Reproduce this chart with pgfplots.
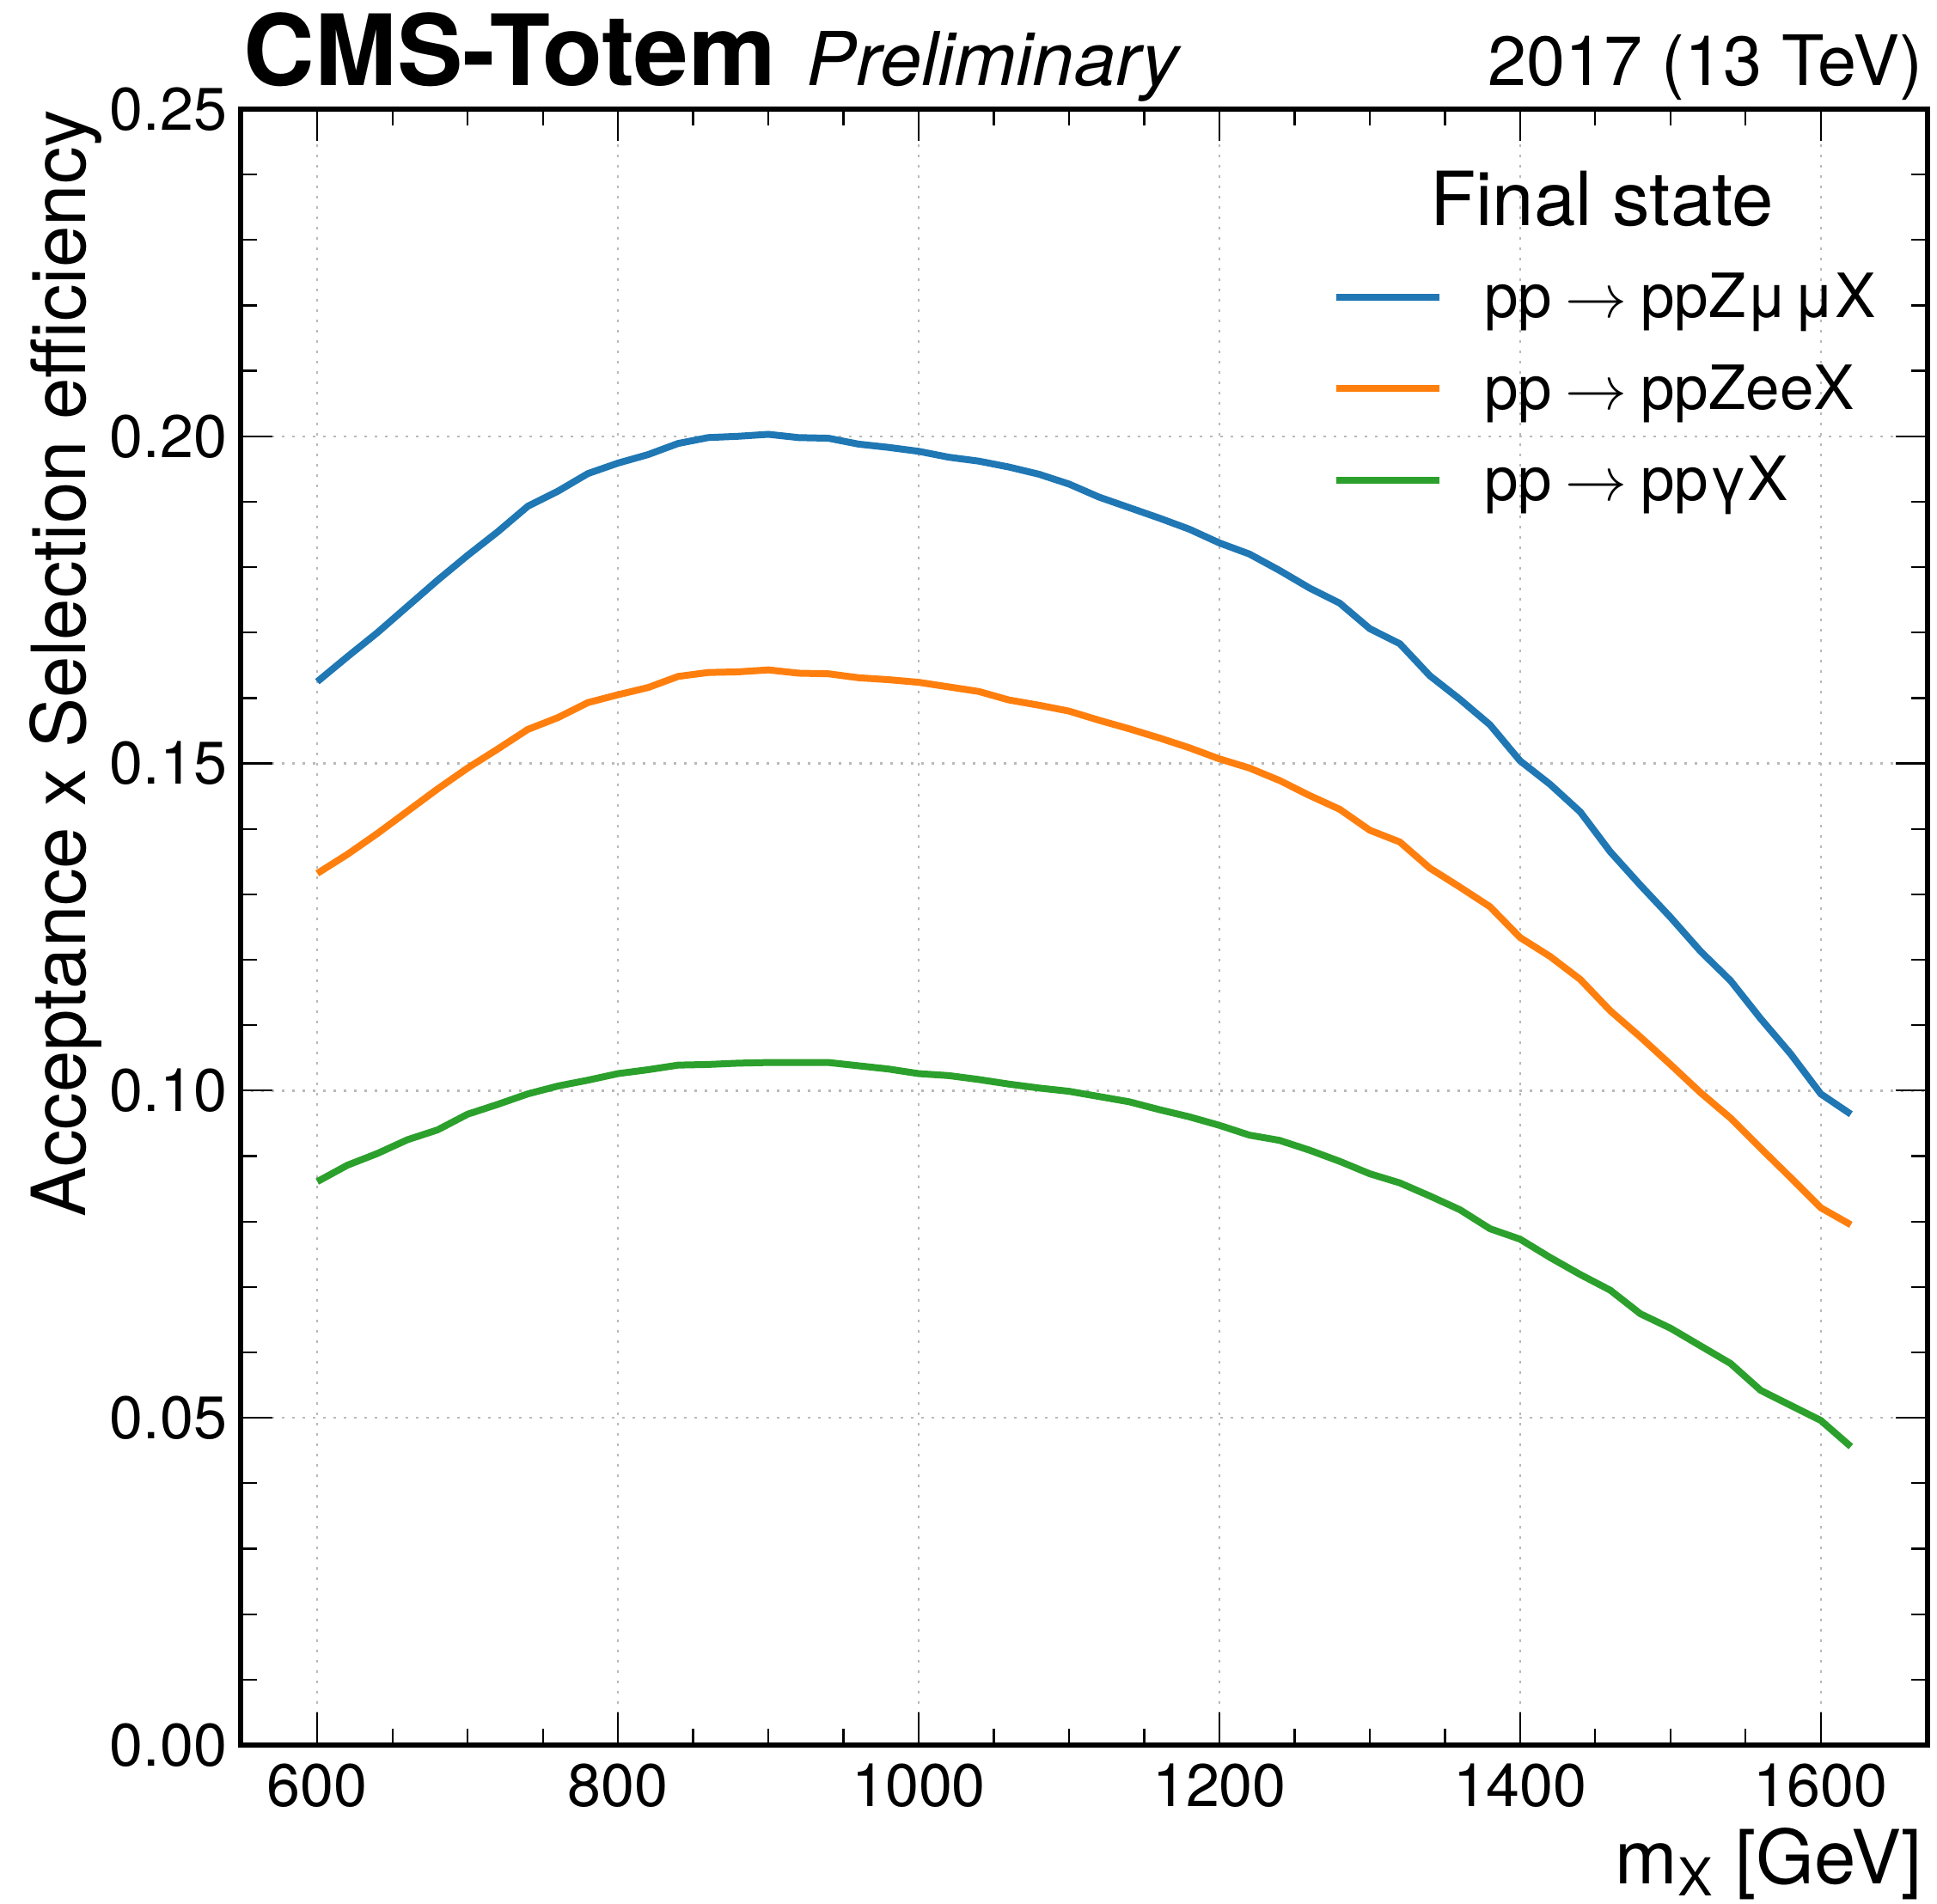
\documentclass[border=0pt]{standalone}
\usepackage{pgfplots}
\pgfplotsset{compat=1.18}
\usepackage{pgfplotstable}
\usepackage{fontspec}
\setmainfont{TeX Gyre Heros}
\definecolor{tabblue}{HTML}{1F77B4}
\definecolor{taborange}{HTML}{FF7F0E}
\definecolor{tabgreen}{HTML}{2CA02C}

\pgfplotstableread{
m    mumu    ee      gam
600  0.1625  0.1332  0.0861
620  0.1663  0.1361  0.0886
640  0.1700  0.1393  0.0904
660  0.1740  0.1427  0.0925
680  0.1780  0.1461  0.0940
700  0.1818  0.1493  0.0964
720  0.1854  0.1522  0.0979
740  0.1893  0.1552  0.0995
760  0.1916  0.1570  0.1007
780  0.1943  0.1593  0.1016
800  0.1959  0.1605  0.1026
820  0.1972  0.1616  0.1032
840  0.1989  0.1633  0.1039
860  0.1998  0.1639  0.1040
880  0.2000  0.1640  0.1042
900  0.2003  0.1643  0.1043
920  0.1998  0.1638  0.1043
940  0.1997  0.1637  0.1043
960  0.1988  0.1631  0.1038
980  0.1983  0.1628  0.1033
1000 0.1977  0.1624  0.1026
1020 0.1968  0.1617  0.1023
1040 0.1962  0.1610  0.1017
1060 0.1953  0.1597  0.1010
1080 0.1942  0.1589  0.1004
1100 0.1927  0.1580  0.0999
1120 0.1907  0.1566  0.0991
1140 0.1891  0.1553  0.0983
1160 0.1875  0.1539  0.0971
1180 0.1858  0.1524  0.0960
1200 0.1837  0.1507  0.0947
1220 0.1820  0.1493  0.0932
1240 0.1795  0.1474  0.0924
1260 0.1768  0.1451  0.0909
1280 0.1745  0.1430  0.0892
1300 0.1706  0.1398  0.0873
1320 0.1683  0.1380  0.0859
1340 0.1634  0.1340  0.0839
1360 0.1598  0.1311  0.0818
1380 0.1559  0.1281  0.0789
1400 0.1504  0.1234  0.0773
1420 0.1468  0.1205  0.0745
1440 0.1426  0.1170  0.0719
1460 0.1365  0.1122  0.0695
1480 0.1314  0.1082  0.0659
1500 0.1265  0.1040  0.0637
1520 0.1213  0.0997  0.0610
1540 0.1168  0.0958  0.0583
1560 0.1110  0.0912  0.0542
1580 0.1056  0.0867  0.0519
1600 0.0995  0.0821  0.0496
1620 0.0964  0.0795  0.0456
}\datatable

\begin{document}
\begin{tikzpicture}
\begin{axis}[
  name=ax, at={(0,0)}, anchor=south west,
  scale only axis, width=392.6pt, height=380.8pt,
  xmin=549, xmax=1671, ymin=0, ymax=0.25,
  xtick={600,800,1000,1200,1400,1600}, minor x tick num=3,
  ytick={0,0.05,0.1,0.15,0.2,0.25}, minor y tick num=4,
  tick align=inside, xtick pos=both, ytick pos=both,
  major tick length=7.5pt, minor tick length=3.75pt,
  every tick/.style={black, line width=0.45pt},
  grid=major,
  major grid style={gray!55, line width=0.5pt, dash pattern=on 0.6pt off 1.8pt},
  axis line style={line width=1.2pt},
  tick label style={font=\fontsize{14}{16}\selectfont},
  xticklabel style={inner sep=0pt, yshift=-4.2pt},
  yticklabel style={inner sep=0pt, xshift=-3pt,
     /pgf/number format/fixed, /pgf/number format/fixed zerofill,
     /pgf/number format/precision=2},
  /pgf/number format/assume math mode=true,
  /pgf/number format/1000 sep={},
  scaled y ticks=false,
  xlabel={m\textsubscript{X} [GeV]},
  ylabel={Acceptance x Selection efficiency},
  label style={font=\fontsize{17.4}{20}\selectfont, inner sep=0pt},
  xlabel style={at={(axis description cs:0.99745,-0.0846)}, anchor=base east},
  ylabel style={at={(axis description cs:-0.0922,1)}, anchor=base east},
  legend style={draw=none, fill=none, at={(0.6475,0.8997)}, anchor=north west,
     inner sep=0pt, outer sep=0pt, row sep=10.1pt,
     font=\fontsize{14.2}{17}\selectfont,
     nodes={inner sep=0pt, text height=10.4pt, text depth=0.8pt},
     /tikz/every odd column/.append style={column sep=9.6pt}},
  legend cell align=left,
  legend image code/.code={\draw[#1] (0pt,0pt) -- (24pt,0pt);},
]
\addplot[tabblue, line width=1.6pt] table[x=m, y=mumu] {\datatable};
\addlegendentry{pp\hspace{0.22em}$\rightarrow$\hspace{0.22em}ppZμ\hspace{0.08em}μX}
\addplot[taborange, line width=1.6pt] table[x=m, y=ee] {\datatable};
\addlegendentry{pp\hspace{0.22em}$\rightarrow$\hspace{0.22em}ppZeeX}
\addplot[tabgreen, line width=1.6pt] table[x=m, y=gam] {\datatable};
\addlegendentry{pp\hspace{0.22em}$\rightarrow$\hspace{0.22em}ppγX}
\end{axis}
\node[anchor=base west, inner sep=0pt, font=\bfseries\fontsize{22.9}{26}\selectfont] at (0.6pt,386.2pt) {CMS-Totem};
\node[anchor=base west, inner sep=0pt, font=\itshape\fontsize{17.3}{20}\selectfont] at (131.6pt,386.2pt) {Preliminary};
\node[anchor=base east, inner sep=0pt, font=\fontsize{16.2}{19}\selectfont] at (391.6pt,386.2pt) {2017 (13 TeV)};
\node[anchor=base, inner sep=0pt, font=\fontsize{17.4}{20}\selectfont] at (316.8pt,353.6pt) {Final state};
\pgfresetboundingbox
\path[use as bounding box] (-56pt,-37pt) rectangle (394.8pt,406.2pt);
\end{tikzpicture}
\end{document}
